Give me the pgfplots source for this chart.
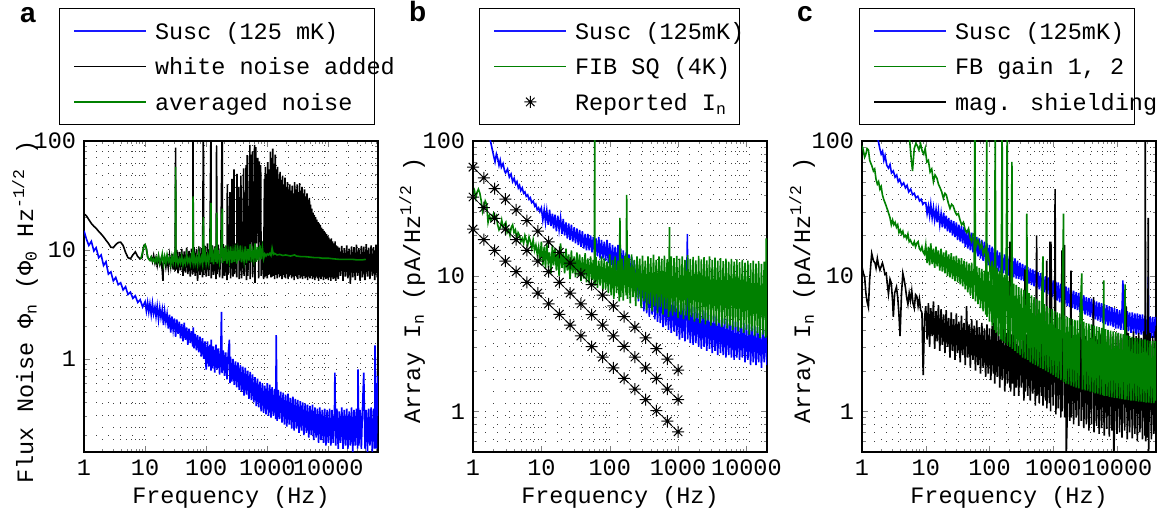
\documentclass[border=0pt]{standalone}
\usepackage{fontspec}
\setmainfont{Liberation Mono}
\newfontfamily\panelfont{Liberation Sans}
\usepackage{pgfplots}
\pgfplotsset{compat=1.18}
\definecolor{mblue}{rgb}{0,0,1}
\definecolor{lblue}{rgb}{0.1,0.1,1}
\definecolor{mgreen}{rgb}{0,0.5,0}
\pgfdeclareplotmark{mstar}{%
  \pgfpathmoveto{\pgfqpoint{-\pgfplotmarksize}{0pt}}\pgfpathlineto{\pgfqpoint{\pgfplotmarksize}{0pt}}%
  \pgfpathmoveto{\pgfqpoint{0pt}{-\pgfplotmarksize}}\pgfpathlineto{\pgfqpoint{0pt}{\pgfplotmarksize}}%
  \pgfpathmoveto{\pgfqpoint{-.707\pgfplotmarksize}{-.707\pgfplotmarksize}}\pgfpathlineto{\pgfqpoint{.707\pgfplotmarksize}{.707\pgfplotmarksize}}%
  \pgfpathmoveto{\pgfqpoint{-.707\pgfplotmarksize}{.707\pgfplotmarksize}}\pgfpathlineto{\pgfqpoint{.707\pgfplotmarksize}{-.707\pgfplotmarksize}}%
  \pgfusepathqstroke}
\newcommand\fs{\fontsize{23.5bp}{27bp}\selectfont}
\pgfplotsset{
  legend image code/.code={\path (0bp,0bp) (72bp,0bp); \draw[mark repeat=2,mark phase=2,#1] plot coordinates {(0bp,0bp) (36bp,0bp) (72bp,0bp)};},
  every axis/.append style={
    scale only axis, width=294bp, height=311bp,
    tick align=inside,
    grid=both,
    major grid style={black!75, line width=1bp, dash pattern=on 1bp off 11bp},
    minor grid style={black!75, line width=1bp, dash pattern=on 1bp off 11bp},
    axis line style={line width=1.3bp},
    major tick length=6bp, minor tick length=3.5bp,
    xlabel style={at={(rel axis cs:0.5,-0.145)}, anchor=center},
    ylabel style={anchor=center},
    legend cell align=left,
    legend style={anchor=north west, fill=white,
      inner xsep=14bp, inner ysep=14bp, row sep=18.5bp, column sep=8bp,
      nodes={inner sep=0bp, text height=17bp, text depth=0bp}},
  },
  bl/.style={mblue, line width=1.6bp},
  gr/.style={mgreen, line width=1.6bp},
  bk/.style={black, line width=1.6bp},
  legblue/.style={legend image code/.code={\draw[draw=lblue, line width=1.5bp] (0bp,0bp) -- (72bp,0bp);}},
  leggreen/.style={legend image code/.code={\draw[draw=mgreen, line width=1.3bp] (0bp,0bp) -- (72bp,0bp);}},
  legblack/.style={legend image code/.code={\draw[draw=black, line width=1.1bp] (0bp,0bp) -- (72bp,0bp);}},
}
\begin{document}
\fs
\begin{tikzpicture}[x=1bp,y=1bp]
\useasboundingbox (0,0) rectangle (1173,510);
% ================= panel a =================
\begin{axis}[xmode=log, ymode=log, at={(84bp,58bp)}, anchor=south west, xmin=1, xmax=65000, ymin=0.14, ymax=100,
  xtick={1,10,100,1000,10000}, xticklabels={1,10,100,1000,10000},
  ytick={1,10,100}, yticklabels={1,10,100},
  minor xtick={2,3,4,5,6,7,8,9,20,30,40,50,60,70,80,90,200,300,400,500,600,700,800,900,2000,3000,4000,5000,6000,7000,8000,9000,20000,30000,40000,50000,60000},
  minor ytick={0.2,0.3,0.4,0.5,0.6,0.7,0.8,0.9,2,3,4,5,6,7,8,9,20,30,40,50,60,70,80,90},
  xlabel={Frequency (Hz)},
  ylabel={Flux Noise Φ\textsubscript{n} (Φ\textsubscript{0} Hz\textsuperscript{-1/2} )},
  ylabel style={at={(rel axis cs:-0.2007,0.45)}},
  legend style={at={(-0.085,1.4277)}, line width=1bp}]
\addplot[bl, forget plot] table {
1 15
1.1 12.5
1.2 11
1.32 12
1.45 9.8
1.58 10.5
1.74 8.5
1.91 9
2.09 7.2
2.29 7.8
2.51 6
2.75 6.3
3.02 5.2
3.31 5.6
3.63 4.8
3.98 5
4.37 4.3
4.79 4.6
5.25 3.9
5.75 4.1
6.31 3.6
6.92 3.8
7.59 3.3
8.32 3.5
9.12 3
10 3.35
10.5 2.75
11 3.3
11.5 2.7
12 3.2
12.6 2.55
13.2 3.25
13.8 2.6
14.5 3
15.1 2.45
15.8 3.05
16.6 2.3
17.4 2.95
18.2 2.4
19.1 2.85
20 2.05
20.9 2.75
21.9 2.2
22.9 2.6
24 1.9
25.1 2.55
26.3 1.75
27.5 2.45
28.8 1.85
30.2 2.35
31.6 1.6
33.1 2.3
34.7 1.7
36.3 2.2
38 1.55
39.8 2.1
41.7 1.45
43.7 2.15
45.7 1.5
47.9 1.95
50.1 1.35
52.5 1.9
55 1.4
57.5 1.8
60.3 1.3
61.5 1.95
63.1 1.25
66.1 1.7
69.2 1.2
72.4 1.65
75.9 1.15
79.4 1.6
83.2 1.05
87.1 1.55
91.2 1
95.5 1.45
100 0.8
105 1.45
110 0.85
115 1.35
120 0.78
121 1.5
126 0.82
132 1.3
138 0.75
145 1.35
151 0.8
158 1.25
166 0.72
174 1.3
178 2.7
182 0.74
191 1.2
200 0.7
209 1.15
219 0.65
229 1.1
240 1.5
245 0.6
251 1.05
263 0.62
275 1
288 0.58
302 0.95
316 0.55
331 0.93
347 0.52
363 0.88
380 0.5
398 0.85
417 0.46
437 0.83
457 0.47
479 0.78
501 0.43
525 0.76
550 0.42
575 0.72
603 0.4
631 0.68
661 0.37
692 0.66
724 0.36
759 0.62
794 0.33
832 0.6
871 0.32
912 0.57
955 0.31
1000 0.6
1050 0.3
1100 0.58
1150 0.29
1200 0.55
1260 0.3
1320 0.53
1380 0.28
1400 1.65
1450 0.27
1510 0.52
1580 0.28
1660 0.5
1740 0.26
1820 0.49
1910 0.25
2000 0.47
2090 0.24
2190 0.48
2290 0.25
2400 0.44
2510 0.23
2630 0.45
2750 0.22
2880 0.43
3020 0.23
3160 0.42
3310 0.21
3470 0.41
3630 0.22
3800 0.4
3980 0.2
4170 0.39
4370 0.21
4570 0.38
4790 0.19
5010 0.37
5250 0.2
5500 0.38
5750 0.18
6030 0.36
6310 0.19
6610 0.35
6920 0.17
7240 0.36
7590 0.18
7940 0.34
8320 0.17
8710 0.35
9120 0.16
9550 0.34
10000 0.17
10500 0.35
11000 0.16
11500 0.34
12000 0.17
12600 0.33
12800 0.75
13200 0.16
13800 0.35
14500 0.15
15100 0.33
15800 0.17
16600 0.36
17400 0.15
18200 0.34
19100 0.16
20000 0.35
20900 0.15
21900 0.33
22900 0.16
24000 0.36
25100 0.14
26300 0.34
27500 0.16
28800 0.35
30200 0.15
30600 0.8
31600 0.16
33100 0.34
34700 0.15
36300 0.36
38000 0.75
39800 0.15
41700 0.34
43700 0.14
45700 0.35
47900 0.16
50100 0.36
52500 0.14
55000 0.35
57500 0.15
58000 1.33
60300 0.4
61500 0.15
63100 0.6
64000 0.3
65000 0.7
};
\addplot[bk, forget plot] table {
1 21.5
1.1 20.5
1.2 19
1.32 17.5
1.45 16.5
1.58 15.8
1.74 14.8
1.91 14
2.09 13.2
2.29 12.3
2.51 11.5
2.75 10.6
3.02 10.5
3.31 11.2
3.63 11.7
3.98 11.8
4.37 11
4.79 9.5
5.25 8.5
5.75 8.3
6.31 9
6.92 9.6
7.59 8.7
8.32 8.3
8.9 8.5
9.12 9.5
9.55 11
10 11.2
10.5 10.3
11 8.6
11.5 8.3
12 8.1
12.6 8.6
13.2 7.8
13.8 8.9
14.5 7.6
15.1 8.4
15.8 7.2
16.6 8.7
17.4 7.4
18.2 8.2
19.1 6.5
19.6 5.2
20 7.6
20.9 8.5
21.9 7
22.9 8.4
24 6.8
25.1 8.9
26.3 7.1
27.5 9.2
28.8 6.6
30.2 9.5
31 6.4
31.6 87
32 6.6
33.1 10
34.7 6.1
36.3 9.6
38 6.5
39.8 10.2
41.7 5.8
43.7 9.7
45.7 6.2
47.9 10.5
50.1 6
52.5 9.8
55 5.7
57.5 10.3
60.3 6
61 150
61.6 6.3
63.1 10.6
66.1 5.8
69.2 10.2
72.4 5.2
75.9 10.8
79.4 5.9
83.2 10.4
87.1 5.6
90 150
91.2 5.9
95.5 10.9
100 5.7
105 11.5
110 5.8
115 10.6
120 150
121 5.5
126 11
132 5.9
138 10.8
145 5.4
148 90
151 6
158 11.2
166 5.6
174 10.6
183 150
185 5.5
191 11.3
200 5.8
209 10.8
219 5.3
222 40
229 6
240 11.5
245 34
251 5.5
263 11
265 45
275 5.7
285 55
288 6
302 11.5
316 5.6
320 50
331 11
340 38
347 5.4
363 12
370 48
380 5.5
398 11.3
410 56
417 5.8
437 12
450 60
457 5.3
470 74
479 5.8
501 11.6
520 92
525 5.4
540 75
550 11.8
570 80
575 5.6
603 12
620 92
631 5
650 88
661 11.5
700 70
724 5.5
740 65
759 11.8
780 60
794 5.8
832 12
871 5.4
900 45
912 5.6
930 58
955 5.8
975 50
1000 5.5
1020 64
1050 5.9
1075 55
1100 6
1125 80
1150 5.6
1175 70
1200 5.7
1230 85
1260 5.8
1290 62
1320 5.4
1350 75
1380 5.9
1410 55
1450 5.5
1480 58
1510 6
1550 45
1580 5.6
1620 52
1660 5.8
1700 44
1740 5.4
1780 48
1820 5.9
1860 40
1910 5.6
1950 46
2000 5.5
2050 38
2090 6
2140 42
2190 5.4
2240 36
2290 5.7
2340 40
2400 5.9
2450 35
2510 5.5
2570 39
2630 5.7
2690 33
2750 5.3
2810 42
2880 5.8
2950 36
3020 5.6
3090 40
3160 5.4
3230 34
3310 5.9
3390 41
3470 5.5
3550 35
3630 5.7
3710 38
3800 5.4
3890 33
3980 5.8
4070 36
4170 5.5
4270 31
4370 5.6
4470 33
4570 5.3
4680 29
4790 5.7
4900 30
5010 5.5
5130 26
5250 5.8
5370 24
5500 5.4
5620 22
5750 5.6
5890 21
6030 5.3
6170 20
6310 5.7
6460 19
6610 5.5
6760 18
6920 5.2
7080 17.5
7240 5.6
7410 17
7590 5.4
7760 16
7940 5.7
8130 15.5
8320 5.3
8510 15
8710 5.6
8910 14.5
9120 5.4
9330 14
9550 5.5
9770 13.5
10000 5.3
10200 13
10500 5.6
10700 12.5
11000 5.2
11200 12.8
11500 5.6
11700 12
12000 5.4
12300 11.5
12600 5.5
12900 12
13200 5.2
13500 11
13800 5.6
14100 10.8
14500 5.4
15100 10.5
15800 5.8
16600 10.9
17400 5.2
18200 10.4
19100 5.7
20000 11
20900 5.5
21900 10.3
22900 4.9
24000 10.8
25100 5.6
26300 10.6
27500 5.3
28800 11.2
30200 5.8
31600 10.4
33100 5.2
34700 10.9
36300 5.6
38000 10.7
39800 5.3
41700 11.3
43700 5.7
45700 10.5
47900 5.4
50100 11
52500 5.8
55000 10.6
57500 5.3
60300 11.2
63100 5.6
65000 10.8
};
\addplot[gr, forget plot] table {
8.5 8.3
9 9.3
9.55 10.8
10 11.2
10.5 10.2
11 8.7
11.5 8.2
12 8
12.6 8.6
13.2 7.9
13.8 8.3
14.5 7.7
15.1 8.5
15.8 7.8
16.6 8.9
17.4 7.5
18.2 8
19.1 9.2
20 7.4
20.9 8.7
21.9 7.6
22.9 9
24 7.8
25.1 8.4
26.3 7.3
27.5 8.8
28.8 7.6
30.2 9
31.2 7.8
31.6 58
32 7.9
33.1 8.6
34.7 7.4
36.3 8.3
38 7.6
39.8 8.8
41.7 7.3
43.7 8.2
45.7 7.5
47.9 9.1
50.1 7.7
52.5 8.4
55 7.4
57.5 8.8
60.3 7.8
61 31
61.6 7.6
63.1 9
66.1 7.5
69.2 8.6
72.4 7.3
75.9 9.4
79.4 7.6
83.2 8.5
87.1 7.4
90 20
91.2 7.7
95.5 9.6
100 7.5
105 8.9
110 7.6
115 10.2
120 27
121 7.7
126 9.5
132 7.4
138 10.5
145 7.8
150 22
151 7.5
158 10
166 7.7
174 9.2
183 24
185 7.6
191 10.4
200 7.9
209 11
219 7.5
229 9.8
240 8
251 10.8
263 7.6
275 9.7
288 7.8
302 11.2
316 7.5
331 10
347 8
363 11
380 7.7
398 9.6
417 7.9
437 10.8
457 7.6
479 10.2
501 8
525 11.3
550 7.7
575 9.8
603 8.1
631 11.5
661 7.8
692 10.6
724 8
759 11
794 8.2
832 10.5
871 8.3
912 9.2
955 8.8
1000 9.2
1050 9
1100 9.3
1150 8.9
1200 10.4
1260 9.1
1320 9.3
1450 9
1600 9.1
1800 8.9
2000 9
2400 8.8
2800 9
3000 8.8
3500 8.7
4000 8.7
5000 8.6
6000 8.5
7000 8.5
8000 8.4
10000 8.4
12000 8.3
15000 8.2
20000 8.2
25000 8.2
30000 8.1
35000 8.1
41000 8.2
};
\addlegendimage{legblue}\addlegendentry{\makebox[205bp][l]{Susc (125 mK)}}
\addlegendimage{legblack}\addlegendentry{\makebox[205bp][l]{white noise added}}
\addlegendimage{leggreen}\addlegendentry{\makebox[205bp][l]{averaged noise}}
\end{axis}
% ================= panel b =================
\begin{axis}[xmode=log, ymode=log, at={(473bp,58bp)}, anchor=south west, xmin=1, xmax=20000, ymin=0.5, ymax=100,
  xtick={1,10,100,1000,10000}, xticklabels={1,10,100,1000,10000},
  ytick={1,10,100}, yticklabels={1,10,100},
  minor xtick={2,3,4,5,6,7,8,9,20,30,40,50,60,70,80,90,200,300,400,500,600,700,800,900,2000,3000,4000,5000,6000,7000,8000,9000,20000},
  minor ytick={0.5,0.6,0.7,0.8,0.9,2,3,4,5,6,7,8,9,20,30,40,50,60,70,80,90},
  xlabel={Frequency (Hz)},
  ylabel={Array I\textsubscript{n} (pA/Hz\textsuperscript{1/2} )},
  ylabel style={at={(rel axis cs:-0.207,0.52)}},
  legend style={at={(0.0204,1.4277)}, line width=1bp}]
\addplot[bl, forget plot] table {
1.7 120
1.8 100
1.9 88
2 78
2.1 70
2.2 80
2.3 74
2.4 66
2.5 72
2.6 64
2.75 68
2.9 60
3 58
3.2 62
3.4 54
3.6 57
3.8 50
4 53
4.2 48
4.4 50
4.6 45
4.8 47
5 43
5.25 45
5.5 41
5.75 42
6 39
6.3 40
6.6 37
6.9 38
7.2 35
7.6 36
8 33
8.3 34
8.7 31
9.1 32
9.5 30
10 32
10.5 26
11 31
11.5 25
12 30.5
12.6 24
13.2 31
13.8 23.5
14.5 29
15.1 22.5
15.8 28.5
16.6 21.5
17.4 28
18.2 22
19.1 27
20 20.5
20.9 26.5
21.9 20
22.9 25
24 19
25.1 24.5
26.3 18.5
27.5 24
28.8 18
30.2 23
31.6 17.5
33.1 22.5
34.7 17
36.3 22
38 16.5
39.8 21.5
41.7 16
43.7 20.5
45.7 15.5
47.9 20.5
50.1 15.5
52.5 20
55 15
57.5 19.5
60.3 14.5
63.1 19
66.1 14
69.2 19.5
72.4 13.5
75.9 18.5
79.4 13.5
83.2 18
87.1 13
91.2 18.5
95.5 12.5
100 17.5
105 12
110 17
115 11.5
120 16.5
126 11
132 17
138 10.5
145 16
151 10
158 15.5
166 9.5
174 15
182 9
191 14.5
200 8.5
209 14
219 8
229 13
240 7.5
251 12.5
263 6.5
275 12
288 6
302 11
316 5.5
331 10.5
347 5.3
363 10
380 5
398 9.5
417 5.2
437 9
457 4.8
479 8.5
501 4.6
525 8.2
550 4.5
575 8
603 4.2
631 7.6
661 4.3
692 7.4
724 4
759 7.2
794 3.8
832 7
871 3.9
912 6.8
955 3.6
1000 6.6
1050 3.4
1100 6.4
1150 3.5
1200 6.3
1260 3.3
1320 6.2
1370 20.5
1380 3.4
1450 6
1510 3.2
1580 6.1
1660 3.1
1740 5.9
1820 3.2
1910 5.8
2000 3
2090 5.7
2190 2.9
2290 5.6
2400 3
2510 5.5
2630 2.8
2750 5.4
2880 2.9
3020 5.3
3160 2.7
3310 5.2
3470 2.8
3630 5.1
3800 2.6
3980 5
4170 2.7
4370 5
4570 2.6
4790 4.9
5010 2.5
5250 4.8
5500 2.6
5750 4.8
6030 2.5
6310 4.7
6610 2.4
6920 4.6
7240 2.5
7590 4.6
7940 2.4
8320 4.5
8710 2.5
9120 4.5
9550 2.3
10000 4.4
10500 2.4
11000 4.4
11500 2.2
12000 4.3
12600 2.3
13200 4.3
13800 2.2
14500 4.2
15100 2.3
15800 4.2
16600 2.1
17400 4.1
18200 2.3
19100 4.1
20000 2.2
};
\addplot[gr, forget plot] table {
1 40
1.05 43
1.1 38
1.15 42
1.2 44
1.26 41
1.32 36
1.38 30
1.45 33
1.51 36
1.58 34
1.66 25
1.74 28
1.82 26
1.91 27
2 29
2.09 27
2.19 28
2.29 24
2.4 22
2.51 23
2.63 26
2.75 23
2.88 24
3.02 25
3.16 21
3.31 22
3.47 20
3.63 23
3.8 24
3.98 21
4.17 22
4.37 19
4.57 21
4.79 20
5.01 18
5.25 19
5.5 17.5
5.75 20
6.03 18.5
6.31 17
6.61 19.5
6.92 18
7.24 16
7.59 18.5
7.94 15.5
8.32 17
8.71 14.5
9.12 16.5
9.55 13
10 18
10.5 12
11 16.5
11.5 11.5
12 17.5
12.6 12.5
13.2 15
13.8 10.5
14.5 17
15.1 12
15.8 16
16.6 11
17.4 15.5
18.2 10
19.1 17.5
20 11.5
20.9 15
21.9 10.5
22.9 16
24 11
25.1 14.5
26.3 9.5
27.5 15.5
28.8 10.5
30.2 14
31.6 9.8
33.1 15
34.7 10
36.3 14.5
38 9.2
39.8 13.8
41.7 9.6
43.7 14.8
45.7 9
47.9 13.5
50.1 8.8
52.5 14
55 9.4
57.5 13.2
59.5 8.6
60.3 150
61 8.5
63.1 13.8
66.1 8.2
69.2 13
72.4 8.5
75.9 14
79.4 7.8
83.2 13.5
87.1 8
91.2 12.8
95.5 7.5
100 14.5
105 7.2
110 13.2
115 6.8
120 14
126 7.5
132 13
138 6.5
141 27
145 7
151 13.5
158 6.6
166 14.2
174 7.2
177 40
182 6.8
191 13.6
200 6.3
209 14.5
219 7
229 13.2
240 6
251 14
263 6.8
275 13.5
288 5.8
302 14.2
316 6.5
331 13
347 5.6
363 14
380 6.2
398 13.6
417 5.5
437 14.4
457 6
479 13.2
501 5.3
525 14
550 5.9
575 13.5
603 5.2
631 14.2
661 5.7
692 13.3
724 5
750 23
759 5.5
794 14
832 5.1
871 13.6
912 5.4
955 14.1
1000 4.9
1050 13.5
1100 5.2
1150 14
1200 4.8
1260 13.2
1320 5.1
1380 14.3
1450 4.7
1510 13.4
1580 5
1660 13.9
1740 4.6
1820 13.1
1910 4.9
2000 14.1
2090 4.5
2190 13.3
2290 4.8
2400 13.8
2510 4.4
2630 13.1
2750 4.7
2880 14
3020 4.3
3160 13.2
3310 4.6
3470 13.7
3630 4.3
3800 13
3980 4.5
4170 13.6
4370 4.2
4570 12.9
4790 4.4
5010 13.5
5250 4.1
5500 12.8
5750 4.3
6030 13.4
6310 4
6610 12.8
6920 4.2
7240 13.3
7590 3.9
7940 12.7
8320 4.1
8710 13.2
9120 3.8
9550 12.6
10000 4
10500 13
11000 3.7
11500 12.5
12000 3.9
12600 13
13200 3.6
13800 12.4
14500 3.8
15100 12.9
15800 3.5
16600 12.3
17400 3.7
18200 12.8
19100 3.5
19500 19
20000 3.6
};
\addplot[black, line width=0.6bp, mark=mstar, mark size=6bp, mark options={line width=1bp}, forget plot] table {
1 64
1.438 53.4
2.069 44.5
2.976 37.1
4.281 30.9
6.158 25.8
8.859 21.5
12.74 17.9
18.33 15
26.37 12.5
37.93 10.4
54.56 8.64
78.48 7.23
112.9 6.02
162.4 5.02
233.6 4.19
336 3.49
483.3 2.91
695.2 2.43
1000 2.02
};
\addplot[black, line width=0.6bp, mark=mstar, mark size=6bp, mark options={line width=1bp}, forget plot] table {
1 38.5
1.438 32.1
2.069 26.8
2.976 22.3
4.281 18.6
6.158 15.5
8.859 12.9
12.74 10.8
18.33 9
26.37 7.5
37.93 6.24
54.56 5.2
78.48 4.35
112.9 3.62
162.4 3.02
233.6 2.52
336 2.1
483.3 1.75
695.2 1.46
1000 1.22
};
\addplot[black, line width=0.6bp, mark=mstar, mark size=6bp, mark options={line width=1bp}, forget plot] table {
1 22.3
1.438 18.6
2.069 15.5
2.976 12.9
4.281 10.8
6.158 8.99
8.859 7.49
12.74 6.24
18.33 5.22
26.37 4.35
37.93 3.61
54.56 3.01
78.48 2.52
112.9 2.1
162.4 1.75
233.6 1.46
336 1.22
483.3 1.01
695.2 0.845
1000 0.705
};
\addlegendimage{legblue}\addlegendentry{\makebox[150bp][l]{Susc (125mK)}}
\addlegendimage{leggreen}\addlegendentry{\makebox[150bp][l]{FIB SQ (4K)}}
\addlegendimage{only marks, mark=mstar, mark size=6bp, draw=black, mark options={line width=1bp}}\addlegendentry{\makebox[150bp][l]{Reported I\textsubscript{n}}}
\end{axis}
% ================= panel c =================
\begin{axis}[xmode=log, ymode=log, at={(862bp,58bp)}, anchor=south west, xmin=1, xmax=41000, ymin=0.5, ymax=100,
  xtick={1,10,100,1000,10000}, xticklabels={1,10,100,1000,10000},
  ytick={1,10,100}, yticklabels={1,10,100},
  minor xtick={2,3,4,5,6,7,8,9,20,30,40,50,60,70,80,90,200,300,400,500,600,700,800,900,2000,3000,4000,5000,6000,7000,8000,9000,20000,30000,40000},
  minor ytick={0.5,0.6,0.7,0.8,0.9,2,3,4,5,6,7,8,9,20,30,40,50,60,70,80,90},
  xlabel={Frequency (Hz)},
  ylabel={Array I\textsubscript{n} (pA/Hz\textsuperscript{1/2} )},
  ylabel style={at={(rel axis cs:-0.204,0.52)}},
  legend style={at={(-0.0102,1.4277)}, line width=1bp}]
\addplot[bl, forget plot] table {
1.75 120
1.8 100
1.9 88
2 80
2.1 84
2.2 72
2.3 78
2.45 66
2.6 63
2.75 67
2.9 58
3.1 60
3.3 54
3.5 56
3.7 50
3.9 52
4.2 47
4.5 49
4.8 45
5.1 47
5.4 42
5.8 44
6.2 40
6.6 41
7 38
7.5 39
8 36
8.5 37
9 34
9.5 35
10 35
10.5 29
11 33
11.5 28
12 34
12.6 27
13.2 32
13.8 26
14.5 31
15.1 25
15.8 30.5
16.6 24
17.4 29
18.2 23
19.1 29.5
20 22.5
20.9 28
21.9 21.5
22.9 27
24 21
25.1 26
26.3 20
27.5 25.5
28.8 19.5
30.2 25
31.6 18.5
33.1 24
34.7 18
36.3 23.5
38 17.5
39.8 23
41.7 16.5
43.7 22
45.7 16
47.9 21.5
50.1 15.5
52.5 21
55 15
57.5 20
60.3 14.5
63.1 19.5
66.1 14
69.2 19
72.4 13.5
75.9 18.5
79.4 13
83.2 18
87.1 12.5
91.2 17.5
95.5 12
100 17
105 11.5
110 16.5
115 11.2
120 16
126 11
132 15.5
138 10.8
145 15
151 10.6
158 14.8
166 10.5
174 14.5
182 10.3
191 14.2
200 10.1
209 14
219 10
229 13.8
240 9.8
251 13.5
263 9.6
275 13
288 9.5
302 12.6
316 9.3
331 12.3
347 9.2
363 12
380 9
398 11.7
417 8.8
437 11.4
457 8.6
479 11.2
501 8.4
525 11
550 8.2
575 10.7
603 8
631 10.5
661 7.8
692 10.2
724 7.6
759 10
794 7.4
832 9.8
871 7.2
912 9.5
955 7
1000 9.3
1050 6.7
1100 9.1
1150 6.6
1200 9
1260 6.4
1320 8.8
1380 6.3
1450 8.6
1510 6.2
1580 8.4
1660 6
1740 8.2
1820 5.9
1910 8
2000 5.8
2090 7.8
2190 5.7
2290 7.6
2400 5.6
2510 7.5
2630 5.4
2750 7.3
2880 5.3
3020 7.2
3160 5.2
3310 7
3470 5.1
3630 6.9
3800 5
3980 6.8
4170 4.9
4370 6.6
4570 4.8
4790 6.5
5010 4.7
5250 6.4
5500 4.6
5750 6.3
6030 4.5
6310 6.2
6610 4.4
6920 6.1
7240 4.3
7590 6
7940 4.3
8320 5.9
8710 4.2
9120 5.8
9550 4.1
10000 5.7
10500 4.1
11000 5.6
11500 4
12000 5.6
12400 9.3
12600 4
13200 5.5
13800 3.9
14500 5.5
15100 3.9
15800 5.4
16600 3.8
17400 5.4
18200 3.8
19100 5.3
20000 3.7
20900 5.3
21900 3.7
22900 5.2
24000 3.7
25100 5.2
26300 3.6
27500 5.1
28800 3.6
30200 5.1
31000 9.9
31600 3.6
33100 5
34700 3.5
36300 5
38000 3.5
39800 5
41000 4.3
};
\addplot[bk, forget plot] table {
1 11.7
1.05 10.5
1.1 9.9
1.15 7.5
1.2 6.5
1.26 5.9
1.32 9.5
1.38 12.5
1.42 14.7
1.51 13
1.6 12.5
1.66 11.5
1.74 13.5
1.82 12
1.91 11.1
2 11.8
2.09 12.5
2.19 11.5
2.29 10.3
2.4 10.5
2.51 8.5
2.6 7.4
2.75 9.5
2.88 8.9
3.02 6.5
3.1 5
3.25 7.5
3.47 8.3
3.63 7
3.8 5.2
3.95 3.6
4.17 7.5
4.37 10.5
4.57 9.5
4.79 8.3
5.01 7
5.25 6.2
5.5 7.5
5.75 6.6
6.03 7.8
6.31 6.3
6.61 5.8
6.92 7.3
7.24 7.1
7.59 6
7.94 6.8
8.32 5.6
8.71 5.4
9.12 1.85
9.55 4.8
10 6
10.5 3.4
11 6.3
11.5 3
12 5.8
12.6 3.6
13.2 6.5
13.8 2.9
14.5 5.5
15.1 3.3
15.8 6.1
16.6 2.8
17.4 5.7
18.2 3.1
19.1 5.2
20 2.7
20.9 5.6
21.9 3
22.9 4.9
24 2.5
25.1 5.4
26.3 2.8
27.5 4.8
28.8 2.4
30.2 5.3
31.6 2.7
33.1 4.6
34.7 2.3
36.3 5.1
38 2.6
39.8 4.5
41.7 2.2
43.7 6
45.7 2.5
47.9 4.4
50.1 2.1
52.5 4.8
55 2.4
57.5 4.3
60.3 2
63.1 4.7
66.1 2.2
69.2 4.2
72.4 1.9
75.9 4.5
79.4 2.1
83.2 4.1
87.1 1.8
91.2 4.4
95.5 1.9
100 4.1
105 1.7
110 4.3
115 1.9
120 8.3
121 1.6
126 4
132 1.8
138 4.2
145 1.5
151 3.9
158 1.7
166 4.1
174 1.4
182 3.8
191 1.6
200 4
209 1.5
210 18
215 1.4
219 3.7
229 1.6
240 6.5
245 1.3
251 3.9
263 1.5
275 3.6
288 1.3
302 3.8
316 1.5
331 3.5
347 1.2
360 11.2
363 1.4
380 3.7
398 1.3
417 3.4
437 1.2
457 3.6
479 1.35
501 3.3
525 1.1
550 20
555 1.3
575 3.5
603 1.15
631 3.2
661 1.3
680 10.6
692 1.1
724 3.4
759 1.2
790 13
794 1.05
832 3.3
871 1.15
890 18
912 1
920 18
955 3.2
1000 1.1
1050 3.4
1070 44
1100 0.95
1150 3.3
1200 1.05
1260 3.5
1320 0.9
1370 15.5
1380 1
1450 3.4
1500 17
1510 0.9
1580 3.3
1600 0.45
1660 0.95
1740 3.5
1820 0.85
1900 11
1910 0.9
2000 3.4
2090 0.8
2190 3.6
2290 0.9
2400 3.3
2510 0.78
2630 3.5
2700 7.6
2750 0.85
2880 3.4
3020 0.75
3160 3.6
3310 0.8
3470 3.3
3630 0.72
3800 3.5
3980 0.8
4170 3.4
4300 7
4370 0.7
4570 3.6
4790 0.78
5010 3.4
5250 0.68
5500 3.7
5750 0.75
6030 3.5
6310 0.66
6610 3.6
6920 0.74
7240 3.4
7590 0.65
7940 3.7
8320 0.72
8710 3.5
8900 0.45
9120 0.7
9550 3.6
10000 0.68
10500 3.8
11000 0.7
11500 3.5
12000 0.64
12600 3.7
13200 0.72
13800 3.6
14000 5.9
14500 0.62
15100 3.8
15800 0.7
16600 3.5
17400 0.63
18200 3.9
19100 0.68
20000 3.6
20900 0.6
21900 3.8
22900 0.7
24000 3.5
25100 0.62
26300 3.9
27500 0.66
27800 130
28300 0.6
28800 3.7
30200 0.64
31000 27
31400 0.45
31600 0.7
33100 3.8
34700 0.62
36300 3.6
38000 0.68
39800 3.9
41000 0.65
};
\addplot[gr, forget plot] table {
1 92
1.05 85
1.1 76
1.15 80
1.2 88
1.26 86
1.32 72
1.38 68
1.42 66
1.51 60
1.58 62
1.66 52
1.74 48
1.82 50
1.91 44
2 46
2.09 40
2.19 37
2.29 35
2.4 33
2.51 31
2.63 29
2.75 27
2.88 24
3.02 26
3.16 24
3.31 25
3.47 23
3.63 24
3.8 21
3.98 22
4.17 20.5
4.37 21.5
4.57 19.5
4.79 20
5.01 19
5.25 20.5
5.5 18
5.75 18.5
6.03 17.5
6.31 17
6.61 18
6.92 16.5
7.24 17.5
7.59 18
7.94 16
8.32 15.5
8.71 16.5
9.12 15
9.55 14.5
10 17
10.5 12.5
11 16.5
11.5 12
12 17.5
12.6 12.3
13.2 16
13.8 11.5
14.5 16.5
15.1 11.8
15.8 15.5
16.6 11
17.4 16
18.2 10.8
19.1 15
20 10.5
20.9 15.5
21.9 10
22.9 14.5
24 9.8
25.1 14.8
26.3 9.5
27.5 14
28.8 9.2
30.2 14.2
31.6 9
33.1 13.5
34.7 8.7
36.3 13.6
38 8.4
39.8 13
41.7 8
43.7 12.8
45.7 7.6
47.9 12.4
50.1 7.2
52.5 12.6
55 6.8
57.5 12
59 150
60.3 6.5
63.1 11.8
66.1 6.2
69.2 11.5
72.4 5.8
75.9 11.3
79.4 5.5
83.2 11
87.1 5.2
91 150
91.2 5
95.5 10.8
100 4.6
105 11.2
110 4.3
115 10.4
120 4
123 150
126 3.8
132 10.8
138 3.6
145 9.9
151 3.4
158 150
160 3.3
166 9.8
174 3.2
182 9.4
190 150
191 3.1
200 9.2
209 3
219 9.5
225 70
229 2.9
240 8.8
251 2.8
263 8.6
275 2.7
288 8.3
302 2.6
316 8.1
331 2.5
347 7.9
363 2.45
380 7.7
385 29
398 2.4
417 7.5
437 2.3
457 7.2
479 2.25
501 7
525 2.2
550 6.8
575 2.15
603 6.6
631 2.1
661 6.4
690 14
692 2.05
724 6.2
759 2
794 6
832 1.95
871 5.8
912 1.9
955 5.7
1000 1.85
1050 5.5
1100 1.8
1150 5.4
1200 1.75
1260 5.3
1320 1.7
1380 5.2
1450 29
1460 1.65
1510 5.1
1580 1.6
1660 5
1740 1.58
1820 4.9
1910 1.55
2000 4.8
2090 1.52
2190 4.75
2290 1.5
2400 4.7
2510 1.48
2630 4.6
2800 10.5
2880 1.45
3020 4.6
3160 1.43
3310 4.5
3470 1.42
3630 4.45
3800 1.4
3980 4.4
4170 1.38
4370 4.3
4570 1.36
4790 4.25
5010 1.35
5250 4.2
5500 1.33
5750 4.15
6030 1.32
6200 9.3
6310 1.3
6610 4.05
6920 1.3
7240 4
7590 1.28
7940 3.95
8320 1.27
8710 3.9
9120 1.26
9550 3.85
10000 1.25
10500 3.8
11000 1.24
11500 3.75
12000 1.23
12600 3.7
13200 1.22
13400 8.7
13800 1.22
14500 3.65
15100 1.21
15800 3.6
16600 1.2
17400 3.55
18200 1.2
19100 3.5
20000 1.19
20900 3.5
21900 1.18
22900 3.45
24000 1.18
25100 3.4
26300 1.17
27500 3.4
28800 1.16
30200 3.35
31600 1.16
33100 3.3
34700 1.15
36300 3.3
38000 1.15
39800 3.3
41000 1.2
};
\addplot[gr, forget plot] table {
5.2 150
5.6 100
5.9 75
6.2 60
6.6 88
7 96
7.4 92
7.8 86
8.3 95
8.8 84
9.3 80
9.8 88
10.4 70
11 72
11.7 59
12.4 62
13.2 50
14 56
15 53
15.8 48
16.8 45
17.8 42
18.9 37.6
20 41
21 40
22.5 35
24 31.7
25.5 34
27 33
28.8 30
30.6 28.4
32.5 29
34.5 26
36.6 24
39 25
41.5 22
44 21
47 22.5
50 19
52.5 18
55.5 20.5
59 20
62.5 17
66 18.5
71 16
75 17.5
80 14.5
85 16
90 13.5
95 14.5
100 12.5
105 9
110 13
115 8.5
120 12
126 8
132 11.5
138 7.5
145 11
151 7
158 10.5
166 6.8
174 10.2
182 6.5
191 10
200 6.2
};
\addlegendimage{legblue}\addlegendentry{\makebox[165bp][l]{Susc (125mK)}}
\addlegendimage{leggreen}\addlegendentry{\makebox[165bp][l]{FB gain 1, 2}}
\addlegendimage{legblack}\addlegendentry{\makebox[165bp][l]{mag. shielding}}
\end{axis}
\node[font=\panelfont\bfseries\fontsize{28bp}{30bp}\selectfont, anchor=base west] at (12,487) {a};
\node[font=\panelfont\bfseries\fontsize{28bp}{30bp}\selectfont, anchor=base west] at (401,488) {b};
\node[font=\panelfont\bfseries\fontsize{28bp}{30bp}\selectfont, anchor=base west] at (789,488) {c};
\end{tikzpicture}
\end{document}
